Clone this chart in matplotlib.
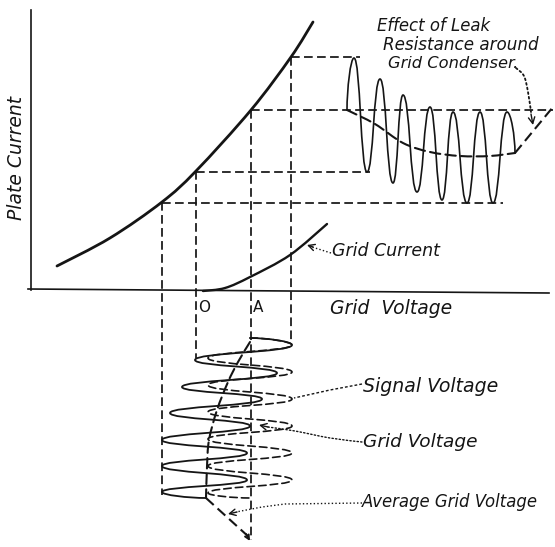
import matplotlib
matplotlib.use("Agg")
import matplotlib.pyplot as plt
from matplotlib.path import Path
from matplotlib.patches import PathPatch

# characteristic curves (drawing units, y grows downward)
plate_x = [57, 110, 162, 196, 251, 291, 313]
plate_y = [266, 238, 202, 171, 110, 57, 22]
gridcur_x = [203, 225, 250, 290, 327]
gridcur_y = [291, 288, 277, 255, 224]

# operating points projected from the plate curve
guide_v_x = [162, 196, 251, 291]
guide_v_top = [202, 171, 110, 57]
guide_v_bot = [495, 358, 540, 343]
guide_h_y = [57, 110, 172, 203]
guide_h_left = [291, 251, 196, 162]
guide_h_right = [360, 553, 370, 503]

# plate current swing: start, alternating peaks/troughs, end
pc_x = [347, 354, 367, 380, 393, 403, 417, 430, 442, 453, 467, 480, 493, 507, 515]
pc_y = [110, 58, 172, 79, 183, 95, 192, 107, 200, 112, 203, 112, 203, 112, 153]
pc_avg_x = [347, 375, 403, 430, 460, 490, 515]
pc_avg_y = [110, 124, 143, 152, 156, 156, 153]
pc_avg_end = (553, 107)

# signal voltage (centred on A) and grid voltage (shifted by grid leak)
sig_x = [250, 292, 208, 292, 208, 292, 208, 292, 208, 292, 208, 292, 208, 250]
sig_y = [338, 345, 358, 372, 385, 399, 412, 426, 439, 453, 466, 480, 493, 498]
grid_x = [250, 292, 195, 277, 182, 262, 170, 250, 162, 247, 162, 247, 162, 206]
grid_y = [338, 345, 360, 373, 387, 399, 413, 426, 440, 453, 466, 480, 492, 498]
gavg_x = [250, 238, 228, 217, 209, 207, 206]
gavg_y = [342, 362, 382, 410, 440, 467, 498]
gavg_end = (250, 538)

DASH = (0, (5, 2.5))
INK = "#151515"


def smooth(xs, ys):
    pts = list(zip(xs, ys))
    verts = [pts[0]]
    codes = [Path.MOVETO]
    n = len(pts)
    for i in range(n - 1):
        p0 = pts[max(i - 1, 0)]
        p1 = pts[i]
        p2 = pts[i + 1]
        p3 = pts[min(i + 2, n - 1)]
        c1 = (p1[0] + (p2[0] - p0[0]) / 6, p1[1] + (p2[1] - p0[1]) / 6)
        c2 = (p2[0] - (p3[0] - p1[0]) / 6, p2[1] - (p3[1] - p1[1]) / 6)
        verts += [c1, c2, p2]
        codes += [Path.CURVE4] * 3
    return Path(verts, codes)


def wave(xs, ys, along_x, k):
    # half-waves between extremes, flat tangent at each extreme
    verts = [(xs[0], ys[0])]
    codes = [Path.MOVETO]
    n = len(xs)
    for i in range(n - 1):
        x0, y0, x1, y1 = xs[i], ys[i], xs[i + 1], ys[i + 1]
        dx, dy = x1 - x0, y1 - y0
        if along_x:
            c1 = (x0 + k * dx, y0)
            c2 = (x1 - k * dx, y1)
            if i == 0:
                c1 = (x0, y0 + 0.4 * dy)
            if i == n - 2:
                c2 = (x1, y1 - 0.4 * dy)
        else:
            c1 = (x0, y0 + k * dy)
            c2 = (x1, y1 - k * dy)
            if i == 0:
                c1 = (x0 + 0.4 * dx, y0)
            if i == n - 2:
                c2 = (x1 - 0.4 * dx, y1)
        verts += [c1, c2, (x1, y1)]
        codes += [Path.CURVE4] * 3
    return Path(verts, codes)


def draw(ax, path, lw, ls="-"):
    ax.add_patch(PathPatch(path, fill=False, lw=lw, ls=ls, ec=INK,
                           capstyle="round", joinstyle="round"))


def arrowhead(ax, tip, frm, lw=1.0, size=0.45):
    style = "->,head_length=%.2f,head_width=%.2f" % (size, size / 2)
    ax.annotate("", xy=tip, xytext=frm,
                arrowprops=dict(arrowstyle=style, lw=lw, color=INK,
                                shrinkA=0, shrinkB=0))


fig = plt.figure(figsize=(5.55, 5.47), dpi=100)
ax = fig.add_axes([0, 0, 1, 1])
ax.set_xlim(0, 555)
ax.set_ylim(547, 0)
ax.axis("off")

# axes of the diagram
ax.plot([31, 31], [10, 290], color=INK, lw=1.2)
ax.plot([28, 549], [289, 293], color=INK, lw=1.2)

# guide lines
for x, t, b in zip(guide_v_x, guide_v_top, guide_v_bot):
    ax.plot([x, x], [t, b], color=INK, lw=1.25, ls=DASH)
for y, l, r in zip(guide_h_y, guide_h_left, guide_h_right):
    ax.plot([l, r], [y, y], color=INK, lw=1.25, ls=DASH)

# characteristics
draw(ax, smooth(plate_x, plate_y), 2.0)
draw(ax, smooth(gridcur_x, gridcur_y), 1.7)

# plate current
draw(ax, wave(pc_x, pc_y, True, 0.5), 1.2)
draw(ax, smooth(pc_avg_x, pc_avg_y), 1.5, DASH)
ax.plot([pc_avg_x[-1], pc_avg_end[0]], [pc_avg_y[-1], pc_avg_end[1]],
        color=INK, lw=1.5, ls=DASH)

# grid side
draw(ax, wave(sig_x, sig_y, False, 0.5), 1.2, (0, (4.5, 2.5)))
draw(ax, wave(grid_x, grid_y, False, 0.5), 1.3)
draw(ax, smooth(gavg_x, gavg_y), 1.5, DASH)
ax.plot([gavg_x[-1], gavg_end[0]], [gavg_y[-1], gavg_end[1]],
        color=INK, lw=1.5, ls=DASH)
arrowhead(ax, (250, 541), (246, 534), lw=1.4, size=0.3)

# labels
tkw = dict(color=INK, style="italic", family="DejaVu Sans")
ax.text(377, 31, "Effect of Leak", fontsize=11.9, **tkw)
ax.text(383, 50, "Resistance around", fontsize=12.1, **tkw)
ax.text(388, 68, "Grid Condenser.", fontsize=11.7, **tkw)
ax.text(17, 158, "Plate Current", rotation=90, ha="center", va="center",
        fontsize=13.5, **tkw)
ax.text(332, 251, "Grid Current", va="center", fontsize=12.5, **tkw)
ax.text(330, 309, "Grid  Voltage", va="center", fontsize=13.5, **tkw)
ax.text(363, 387, "Signal Voltage", va="center", fontsize=13.6, **tkw)
ax.text(363, 442, "Grid Voltage", va="center", fontsize=13.3, **tkw)
ax.text(362, 502, "Average Grid Voltage", va="center", fontsize=11.9, **tkw)
ax.text(204, 308, "O", ha="center", va="center", color=INK, fontsize=11)
ax.text(258, 308, "A", ha="center", va="center", color=INK, fontsize=11)

# leaders
DOT = (0, (1, 1.6))
ax.plot([331, 312], [253, 247], color=INK, lw=1.0, ls=DOT)
arrowhead(ax, (307, 245), (313, 247))
draw(ax, smooth([516, 524, 528, 531], [68, 76, 92, 112]), 1.3, DOT)
arrowhead(ax, (533, 125), (531, 114))
ax.plot([362, 330, 294], [384, 390, 398], color=INK, lw=1.0, ls=(0, (2, 1.5)))
draw(ax, smooth([362, 330, 295, 268], [442, 438, 431, 427]), 1.0, DOT)
arrowhead(ax, (259, 425), (268, 427))
ax.plot([362, 285, 262, 236], [503, 504, 507, 512], color=INK, lw=1.0, ls=DOT)
arrowhead(ax, (228, 514), (237, 512))

fig.savefig("out.png", dpi=100)
